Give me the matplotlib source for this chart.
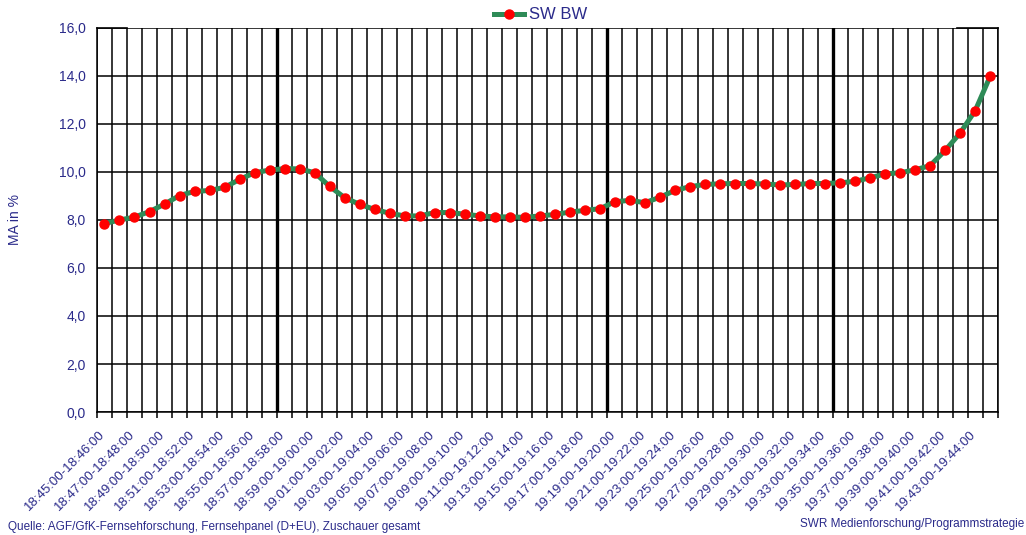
import numpy as np
import matplotlib
matplotlib.use("Agg")
import matplotlib.pyplot as plt
import matplotlib.transforms as mtransforms
from matplotlib.ticker import FuncFormatter

plt.rcParams['font.family'] = ['Liberation Sans', 'DejaVu Sans']

# minute slots 18:45 - 19:45
starts = ["%02d:%02d:00" % divmod(18 * 60 + 45 + i, 60) for i in range(60)]
ends = ["%02d:%02d:00" % divmod(18 * 60 + 46 + i, 60) for i in range(60)]
slots = [s + "-" + e for s, e in zip(starts, ends)]

ma = [7.85, 8.00, 8.12, 8.35, 8.66, 9.02, 9.19, 9.23, 9.36, 9.69,
      9.97, 10.08, 10.14, 10.13, 9.97, 9.40, 8.93, 8.65, 8.44, 8.28,
      8.17, 8.17, 8.31, 8.31, 8.24, 8.17, 8.13, 8.13, 8.11, 8.17,
      8.23, 8.33, 8.40, 8.47, 8.76, 8.82, 8.72, 8.95, 9.23, 9.39,
      9.48, 9.51, 9.52, 9.52, 9.50, 9.46, 9.48, 9.52, 9.52, 9.55,
      9.61, 9.76, 9.92, 9.97, 10.09, 10.27, 10.90, 11.63, 12.56, 14.00]

# slot boundaries drawn with a heavy line
breaks = [12, 34, 49]

navy = '#2a2a8a'

fig = plt.figure(figsize=(10.26, 5.35), dpi=100)
ax = fig.add_axes([0.0945, 0.2299, 0.878, 0.7178])

x = np.arange(len(ma))
ax.plot(x, ma, color='#2e8b57', lw=3.6, marker='o', ms=6.5,
        mfc='#ff0000', mec='#ff0000', label='SW BW', zorder=3)

ax.set_xlim(-0.5, len(ma) - 0.5)
ax.set_ylim(0, 16)
ax.set_yticks(np.arange(0, 17, 2))
ax.yaxis.set_major_formatter(FuncFormatter(lambda v, p: ("%.1f" % v).replace('.', ',')))
ax.tick_params(axis='y', colors=navy, labelsize=10, length=0, pad=8)
ax.yaxis.grid(True, color='black', lw=1.1)

ax.set_xticks(x[::2])
ax.set_xticklabels(slots[::2], rotation=45, ha='right', va='top',
                   rotation_mode='anchor', fontsize=9.5, color=navy)
ax.tick_params(axis='x', which='major', length=0, pad=12)
shift = mtransforms.ScaledTranslation(-4 / 72, 0, fig.dpi_scale_trans)
for lab in ax.get_xticklabels():
    lab.set_transform(lab.get_transform() + shift)
ax.set_xticks(np.arange(-0.5, len(ma), 1), minor=True)
ax.tick_params(axis='x', which='minor', length=4, width=1.1, color='black')
ax.xaxis.grid(True, which='minor', color='black', lw=1.1)
for b in breaks:
    ax.axvline(b - 0.5, color='black', lw=2.4, zorder=2)

ax.spines['top'].set_visible(False)
for s in ['left', 'right', 'bottom']:
    ax.spines[s].set_linewidth(1.1)
ax.axhline(16, xmin=0, xmax=2 / 60, color='black', lw=1.2, clip_on=False)
ax.axhline(16, xmin=0.955, xmax=1, color='black', lw=1.2, clip_on=False)
ax.set_axisbelow(True)

ax.set_ylabel('MA in %', color=navy, fontsize=10)
ax.yaxis.set_label_coords(-0.083, 0.5)

fig.legend(loc='center', bbox_to_anchor=(0.527, 0.972), frameon=False,
           fontsize=12, handlelength=1.8, handletextpad=0.3,
           labelcolor=navy)

fig.text(0.008, 0.015, 'Quelle: AGF/GfK-Fernsehforschung, Fernsehpanel (D+EU), Zuschauer gesamt',
         color=navy, fontsize=8.5, va='center')
fig.text(0.998, 0.02, 'SWR Medienforschung/Programmstrategie',
         color=navy, fontsize=8.5, va='center', ha='right')

fig.savefig('out.png', dpi=100)
